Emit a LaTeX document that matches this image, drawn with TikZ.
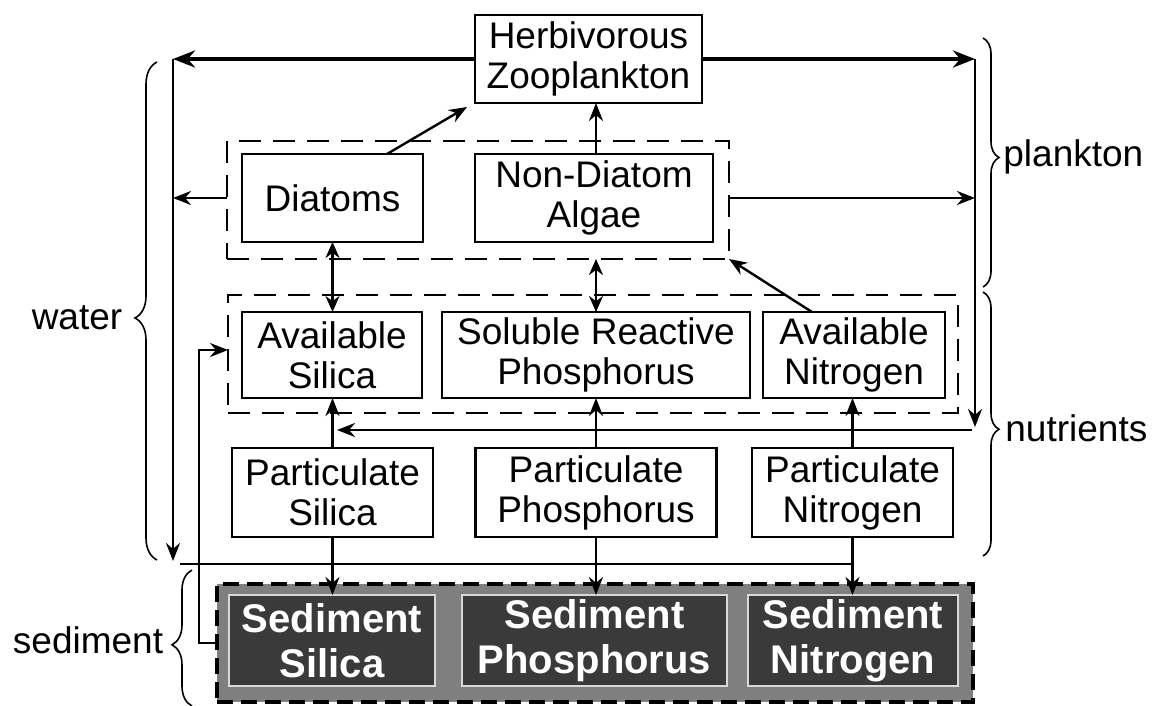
\documentclass[tikz,border=0pt]{standalone}
\usepackage{fontspec}
\setmainfont{Liberation Sans}
\usetikzlibrary{arrows.meta,decorations.pathreplacing,calc}
\definecolor{sedgray}{HTML}{7F7F7F}
\definecolor{seddark}{HTML}{3A3A3A}
\definecolor{sedline}{HTML}{D8D8D8}
\begin{document}
\begin{tikzpicture}[x=0.5pt,y=-0.5pt,
  box/.style={draw, line width=1.3pt, inner sep=0pt, outer sep=0pt, align=center, font=\fontsize{18.5}{20}\selectfont},
  dbox/.style={draw, dash pattern=on 11pt off 6pt, line width=1.3pt, inner sep=0pt, outer sep=0pt},
  sedouter/.style={draw=black, fill=sedgray, dash pattern=on 8pt off 4pt, line width=2pt, inner sep=0pt, outer sep=0pt},
  sedbox/.style={draw=sedline, fill=seddark, line width=1.2pt, inner sep=0pt, outer sep=0pt, align=center, text=white, font=\bfseries\fontsize{20}{22.5}\selectfont},
  arr/.style={-{Stealth[length=9pt,width=7pt]}, line width=1.2pt},
  tarr/.style={-{Stealth[length=11pt,width=8.5pt]}, line width=2pt},
  darr/.style={{Stealth[length=8pt,width=7pt]}-{Stealth[length=8pt,width=7pt]}, line width=1.2pt},
  brc/.style={decorate, line width=0.8pt},
  lbl/.style={inner sep=0pt, font=\fontsize{18.5}{20}\selectfont}
]
\useasboundingbox (0,0) rectangle (1161,706);

% group boxes
\node[dbox, minimum width=251pt, minimum height=59pt] (plank) at (478,200) {};
\node[dbox, minimum width=365pt, minimum height=59pt] (nutr) at (593,354) {};
\node[sedouter, minimum width=378pt, minimum height=59pt] (sed) at (595,643) {};

% boxes
\node[box, minimum width=113.5pt, minimum height=44pt] (herb) at (588.5,59) {Herbivorous\\Zooplankton};
\node[box, minimum width=90.5pt, minimum height=44pt] (diat) at (332.5,198) {Diatoms};
\node[box, minimum width=119pt, minimum height=44pt] (nda) at (594,198) {Non-Diatom\\Algae};
\node[box, minimum width=90pt, minimum height=43pt] (avsi) at (332,355) {Available\\Silica};
\node[box, minimum width=154pt, minimum height=43pt] (srp) at (596,355) {Soluble Reactive\\Phosphorus};
\node[box, minimum width=91pt, minimum height=43pt] (avn) at (854,355) {Available\\Nitrogen};
\node[box, minimum width=100.5pt, minimum height=44.5pt] (psi) at (332.5,492.5) {Particulate\\Silica};
\node[box, minimum width=120.5pt, minimum height=44.5pt] (pp) at (596,492.5) {Particulate\\Phosphorus};
\node[box, minimum width=100.5pt, minimum height=44.5pt] (pn) at (852.5,492.5) {Particulate\\Nitrogen};
\node[sedbox, minimum width=103pt, minimum height=45.5pt] (ssi) at (332,640.5) {Sediment\\Silica};
\node[sedbox, minimum width=132.5pt, minimum height=45.5pt] (sp) at (594.5,640.5) {Sediment\\Phosphorus};
\node[sedbox, minimum width=105pt, minimum height=45.5pt] (sn) at (853,640.5) {Sediment\\Nitrogen};

% outer loop lines
\coordinate (wlt) at (173,59);
\coordinate (wlb) at (173,561);
\coordinate (wrt) at (975,59);
\coordinate (wrb) at (975,427);
\draw[tarr] (herb.west) -- (wlt);
\draw[tarr] (herb.east) -- (wrt);
\draw[arr, line width=1.3pt] (wlt) -- (wlb);
\draw[arr, line width=1.3pt] (wrt) -- (wrb);
\draw[arr] (plank.west |- diat.center) -- (wlt |- diat.center);
\draw[arr] (plank.east |- diat.center) -- (wrt |- diat.center);

% plankton links
\draw[arr] ([xshift=27.25pt]diat.north) -- ([xshift=-4pt,yshift=-2pt]herb.south west);
\draw[arr] (nda.north -| srp.north) -- (herb.south -| srp.north);
\draw[darr] (diat.south) -- (diat.south |- avsi.north);
\draw[darr] (srp.north |- plank.south) -- (srp.north);
\draw[arr] ([xshift=-21pt]avn.north) -- (plank.south east);

% nutrient return
\coordinate (nr) at (972,430);
\draw[arr] (nr) -- ([xshift=2.5pt]nr -| avsi.south);

% particulate links
\draw[arr] (psi.north) -- (psi.north |- avsi.south);
\draw[arr] (pp.north) -- (pp.north |- srp.south);
\draw[arr] (pn.north) -- (pn.north |- avn.south);
\draw[arr] (psi.south) -- (psi.south |- ssi.north);
\draw[arr] (pp.south) -- (pp.south |- sp.north);
\draw[arr] (pn.south) -- (pn.south |- sn.north);

% water / sediment boundary
\coordinate (hl) at (180,564);
\draw[line width=1.2pt] (hl) -- (hl -| pn.south);

% silica loop
\draw[arr] (sed.west) -- ++(-9pt,0) |- ([yshift=2pt]nutr.west);

% braces
\coordinate (bw1) at (157,560); \coordinate (bw2) at (157,62);
\draw[brc, decoration={brace, amplitude=11pt, aspect=0.486}] (bw1) -- (bw2);
\node[lbl] (water) at (77,318) {water};

\coordinate (bs1) at (192,706); \coordinate (bs2) at (192,570);
\draw[brc, decoration={brace, amplitude=10pt, aspect=0.45}] (bs1) -- (bs2);
\node[lbl] (sedl) at (88,640) {sediment};

\coordinate (bp1) at (983,38); \coordinate (bp2) at (983,287);
\draw[brc, decoration={brace, amplitude=8pt, aspect=0.48}] (bp1) -- (bp2);
\node[lbl, anchor=west] (plbl) at (1003,157) {plankton};

\coordinate (bn1) at (983,292); \coordinate (bn2) at (983,556);
\draw[brc, decoration={brace, amplitude=8pt, aspect=0.52}] (bn1) -- (bn2);
\node[lbl, anchor=west] (nlbl) at (1005,428) {nutrients};
\end{tikzpicture}
\end{document}
